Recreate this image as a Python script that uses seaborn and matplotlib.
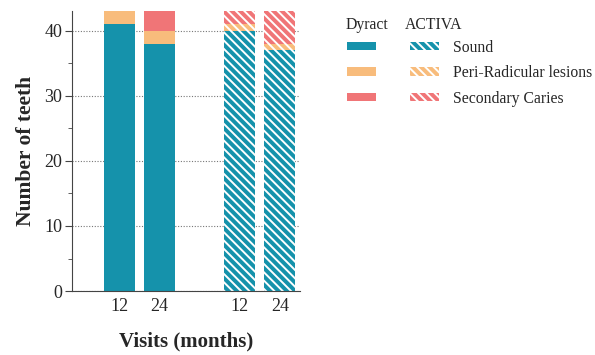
import matplotlib
matplotlib.use("Agg")
import matplotlib.pyplot as plt
import matplotlib.patches as mpatches
from matplotlib.ticker import MultipleLocator
import seaborn as sns
import numpy as np
import pandas as pd

# data
materials = ["Dyract", "ACTIVA"]
visits = ["12", "24"]
sound = {"Dyract": [41, 38], "ACTIVA": [40, 37]}
peri = {"Dyract": [2, 2], "ACTIVA": [1, 1]}
caries = {"Dyract": [0, 3], "ACTIVA": [2, 5]}
outcomes = ["Sound", "Peri-Radicular lesions", "Secondary Caries"]
colors = ["#1592ab", "#f8bc7c", "#f07577"]

sns.set_style("ticks")
plt.rcParams["font.family"] = ["Liberation Serif", "DejaVu Serif"]
plt.rcParams["hatch.linewidth"] = 1.4

rows = []
for g, m in enumerate(materials):
    for i, v in enumerate(visits):
        rows.append({"material": m, "visit": v, "pos": g * 3 + i,
                     "Sound": sound[m][i], "Peri": peri[m][i], "Caries": caries[m][i]})
df = pd.DataFrame(rows)
df["top"] = df["Sound"] + df["Peri"] + df["Caries"]
df["mid"] = df["Sound"] + df["Peri"]

fig = plt.figure(figsize=(5.95, 3.55), dpi=100)
ax = fig.add_axes([0.121, 0.180, 0.383, 0.789])
ax.yaxis.grid(True, linestyle=(0, (1, 1.5)), color="#777777", linewidth=0.8)
ax.set_axisbelow(True)

for col, c in zip(["top", "mid", "Sound"], colors[::-1]):
    sns.barplot(data=df, x="pos", y=col, native_scale=True, width=0.78,
                color=c, saturation=1, linewidth=0, ax=ax)

# hatch the ACTIVA bars
act_pos = set(df.loc[df["material"] == "ACTIVA", "pos"])
for p in ax.patches:
    cx = p.get_x() + p.get_width() / 2
    if any(abs(cx - a) < 0.1 for a in act_pos):
        p.set_hatch("\\\\\\\\")
        p.set_edgecolor("white")
        p.set_linewidth(0)

ax.set_xlim(-1.19, 4.5)
ax.set_ylim(0, 43)
ax.set_xticks(df["pos"])
ax.set_xticklabels(df["visit"], fontsize=13)
ax.tick_params(axis="x", length=0, pad=5)
ax.yaxis.set_major_locator(MultipleLocator(10))
ax.yaxis.set_minor_locator(MultipleLocator(5))
ax.tick_params(axis="y", which="major", labelsize=13, length=5, color="#444444", pad=2)
ax.tick_params(axis="y", which="minor", length=3, color="#444444")
ax.set_xlabel("Visits (months)", fontsize=15, fontweight="bold", labelpad=12)
ax.set_ylabel("Number of teeth", fontsize=15.5, fontweight="bold", labelpad=6)
sns.despine(ax=ax)
for s in ["left", "bottom"]:
    ax.spines[s].set_color("#444444")

# legend: two columns of patches with headers
handles = [mpatches.Patch(facecolor=c, linewidth=0) for c in colors]
handles += [mpatches.Patch(facecolor=c, edgecolor="white", linewidth=0, hatch="\\\\\\\\") for c in colors]
labels = [""] * 3 + outcomes
fig.legend(handles, labels, ncol=2, loc="upper left", bbox_to_anchor=(0.560, 0.928),
           frameon=False, fontsize=11.3, handlelength=1.85, handleheight=0.45,
           labelspacing=0.6, columnspacing=1.25, handletextpad=0.9)
fig.text(0.580, 0.930, "Dyract", fontsize=11.3, va="center")
fig.text(0.680, 0.930, "ACTIVA", fontsize=11.3, va="center")

fig.savefig("out.png", dpi=100)
